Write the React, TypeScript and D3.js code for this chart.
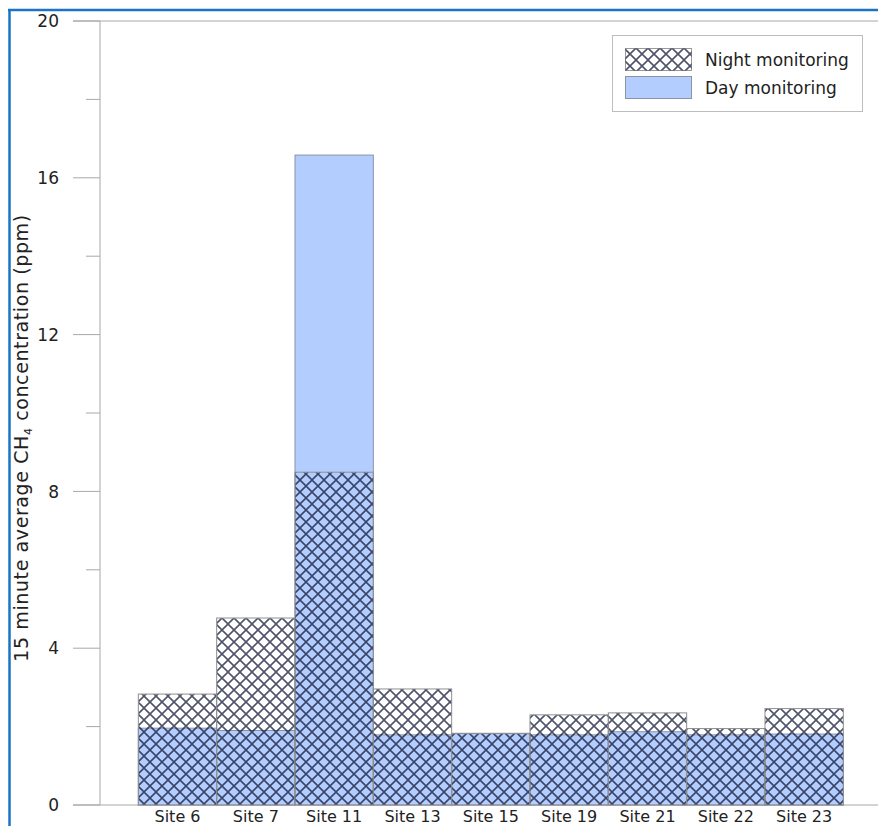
import React from "react";
import * as d3 from "d3";

// Sites along the x axis
const sites = ["Site 6", "Site 7", "Site 11", "Site 13", "Site 15", "Site 19", "Site 21", "Site 22", "Site 23"];
// 15-minute average CH4 (ppm)
const nightValues = [2.83, 4.77, 8.49, 2.96, 1.82, 2.3, 2.35, 1.95, 2.46];
const dayValues = [1.96, 1.9, 16.58, 1.79, 1.83, 1.79, 1.87, 1.79, 1.81];
// Axis ticks
const majorTicks = [0, 4, 8, 12, 16, 20];
const minorTicks = [2, 6, 10, 14, 18];
const seriesNames = ["Night monitoring", "Day monitoring"];

const W = 878;
const H = 826;
const FONT = "'DejaVu Sans', sans-serif";
const DAY_FILL = "#b3cdff";
const AXIS = "#a8a8a8";
const FRAME = "#1a73c6";

export default function App() {
  const x = d3
    .scaleBand<string>()
    .domain(sites)
    .range([100, 878])
    .paddingInner(0)
    .paddingOuter(0.466)
    .align(0.525);
  const y = d3.scaleLinear().domain([0, 20]).range([805, 21]);

  const rows = sites.map((s, i) => ({ site: s, night: nightValues[i], day: dayValues[i] }));

  return (
    <svg
      width={W}
      height={H}
      style={{ position: "absolute", left: 0, top: 0, background: "#fff" }}
      fontFamily={FONT}
    >
      <defs>
        <pattern id="cross" patternUnits="userSpaceOnUse" width={12} height={12}>
          <path d="M0,0L12,12M12,0L0,12" stroke="#0a1030" strokeOpacity={0.72} strokeWidth={1.6} fill="none" />
        </pattern>
      </defs>

      {/* outer frame */}
      <line x1={9.5} x2={9.5} y1={9} y2={H} stroke={FRAME} strokeWidth={2.5} />
      <line x1={8} x2={W} y1={10} y2={10} stroke={FRAME} strokeWidth={2.5} />

      {/* plot top and baseline */}
      <line x1={73} x2={W} y1={y(20)} y2={y(20)} stroke={AXIS} strokeWidth={1} />
      <line x1={73} x2={W} y1={y(0)} y2={y(0)} stroke={AXIS} strokeWidth={1} />

      {/* day bars */}
      {rows.map((r) => (
        <rect
          key={"d" + r.site}
          x={x(r.site)}
          y={y(r.day)}
          width={x.bandwidth()}
          height={y(0) - y(r.day)}
          fill={DAY_FILL}
          stroke="#8c93a6"
          strokeWidth={1}
        />
      ))}
      {/* night bars (hatched, drawn over the day bars) */}
      {rows.map((r) => (
        <rect
          key={"n" + r.site}
          x={x(r.site)}
          y={y(r.night)}
          width={x.bandwidth()}
          height={y(0) - y(r.night)}
          fill="url(#cross)"
          stroke="#8f8f8f"
          strokeWidth={1}
        />
      ))}

      {/* y axis */}
      <line x1={100} x2={100} y1={y(20)} y2={y(0)} stroke={AXIS} strokeWidth={1} />
      {majorTicks.map((t) => (
        <g key={"M" + t}>
          <line x1={73} x2={100} y1={y(t)} y2={y(t)} stroke={AXIS} strokeWidth={1} />
          <text x={59} y={y(t)} dy="0.36em" textAnchor="end" fontSize={17} fill="#222">
            {t}
          </text>
        </g>
      ))}
      {minorTicks.map((t) => (
        <line key={"m" + t} x1={86} x2={100} y1={y(t)} y2={y(t)} stroke={AXIS} strokeWidth={1} />
      ))}

      {/* x labels */}
      {sites.map((s) => (
        <text key={"x" + s} x={(x(s) ?? 0) + x.bandwidth() / 2} y={822} textAnchor="middle" fontSize={16} fill="#222">
          {s}
        </text>
      ))}

      {/* y axis title */}
      <text
        transform="translate(28,438) rotate(-90)"
        textAnchor="middle"
        fontSize={19}
        letterSpacing={0.6}
        fill="#222"
      >
        15 minute average CH
        <tspan fontSize={11} dy={4}>4</tspan>
        <tspan dy={-4}> concentration (ppm)</tspan>
      </text>

      {/* legend */}
      <g>
        <rect x={612.5} y={35.5} width={250} height={76} fill="#fff" stroke="#bdbdbd" strokeWidth={1} />
        <rect x={625.5} y={48.5} width={66} height={22} fill="#fff" stroke="#9a9a9a" />
        <rect x={625.5} y={48.5} width={66} height={22} fill="url(#cross)" stroke="none" />
        <rect x={625.5} y={76.5} width={66} height={22} fill={DAY_FILL} stroke="#8c93a6" />
        <text x={705} y={66} fontSize={17} fill="#222">{seriesNames[0]}</text>
        <text x={705} y={94} fontSize={17} fill="#222">{seriesNames[1]}</text>
      </g>
    </svg>
  );
}
